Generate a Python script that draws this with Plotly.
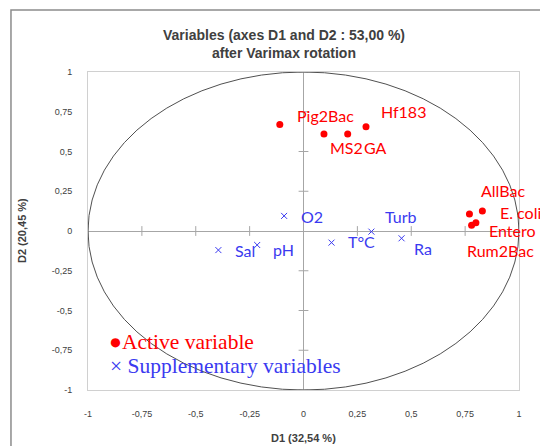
import plotly.graph_objects as go

# ---- data ----
active_names = ["Pig2Bac", "MS2", "GA", "Hf183", "AllBac", "E. coli", "Entero", "Rum2Bac"]
active_d1 = [-0.11, 0.095, 0.205, 0.29, 0.77, 0.83, 0.80, 0.78]
active_d2 = [0.67, 0.61, 0.61, 0.655, 0.107, 0.126, 0.052, 0.036]

supp_names = ["O2", "Sal", "pH", "T°C", "Turb", "Ra"]
supp_d1 = [-0.09, -0.395, -0.215, 0.13, 0.315, 0.455]
supp_d2 = [0.095, -0.12, -0.088, -0.073, -0.004, -0.046]

tick_vals = [-1, -0.75, -0.5, -0.25, 0, 0.25, 0.5, 0.75, 1]
tick_text = ["-1", "-0,75", "-0,5", "-0,25", "0", "0,25", "0,5", "0,75", "1"]

# ---- label offsets (screen px: dx right, dy down) ----
active_off = [(15, -9), (4, 13), (14, 13), (13, -15), (10, -23), (16, 2), (11, 8), (-7, 25)]
supp_off = [(15, 1), (15, 0), (14, 5), (14, -1), (12, -15), (10, 10)]

RED = "#ff0000"
BLUE = "#3a3af0"
LBL_FONT = "Lato"
GRAY_TXT = "#404040"

fig = go.Figure()

# tick marks on the zero axes
inner = [t for t in tick_vals if t != 0]
fig.add_trace(go.Scatter(x=inner, y=[0] * len(inner), mode="markers", hoverinfo="skip",
                         marker=dict(symbol="line-ns", size=7, line=dict(color="#a6a6a6", width=1))))
fig.add_trace(go.Scatter(x=[0] * len(inner), y=inner, mode="markers", hoverinfo="skip",
                         marker=dict(symbol="line-ew", size=7, line=dict(color="#a6a6a6", width=1))))

fig.add_trace(go.Scatter(x=active_d1, y=active_d2, mode="markers", name="Active",
                         marker=dict(symbol="circle", size=7, color=RED)))
fig.add_trace(go.Scatter(x=supp_d1, y=supp_d2, mode="markers", name="Supplementary",
                         marker=dict(symbol="x-thin", size=6, line=dict(color=BLUE, width=1))))

annotations = []
for n, x, y, (dx, dy) in zip(active_names, active_d1, active_d2, active_off):
    annotations.append(dict(x=x, y=y, xref="x", yref="y", text=n, showarrow=False,
                            xanchor="left", yanchor="middle", xshift=dx, yshift=-dy,
                            font=dict(family=LBL_FONT, size=16, color=RED)))
for n, x, y, (dx, dy) in zip(supp_names, supp_d1, supp_d2, supp_off):
    annotations.append(dict(x=x, y=y, xref="x", yref="y", text=n, showarrow=False,
                            xanchor="left", yanchor="middle", xshift=dx, yshift=-dy,
                            font=dict(family=LBL_FONT, size=16, color=BLUE)))

# title lines
annotations.append(dict(x=0.455, y=1.116, xref="paper", yref="paper", showarrow=False,
                        xanchor="center", yanchor="middle",
                        text="<b>Variables (axes D1 and D2 : 53,00 %)</b>",
                        font=dict(family="Liberation Sans", size=14, color=GRAY_TXT)))
annotations.append(dict(x=0.455, y=1.060, xref="paper", yref="paper", showarrow=False,
                        xanchor="center", yanchor="middle",
                        text="<b>after Varimax rotation</b>",
                        font=dict(family="Liberation Sans", size=14, color=GRAY_TXT)))
# axis titles
annotations.append(dict(x=0.5, y=-0.151, xref="paper", yref="paper", showarrow=False,
                        xanchor="center", yanchor="middle", text="<b>D1 (32,54 %)</b>",
                        font=dict(family="Liberation Sans", size=11, color=GRAY_TXT)))
annotations.append(dict(x=-0.153, y=0.5, xref="paper", yref="paper", showarrow=False,
                        xanchor="center", yanchor="middle", text="<b>D2 (20,45 %)</b>",
                        textangle=-90,
                        font=dict(family="Liberation Sans", size=11, color=GRAY_TXT)))
# legend text
annotations.append(dict(x=-0.91, y=-0.70, xref="x", yref="y", xanchor="left", yanchor="middle",
                        text="●Active variable", showarrow=False,
                        font=dict(family="Liberation Serif", size=21.5, color=RED)))
annotations.append(dict(x=-0.905, y=-0.85, xref="x", yref="y", xanchor="left", yanchor="middle",
                        text="× Supplementary variables", showarrow=False,
                        font=dict(family="Liberation Serif", size=21.5, color=BLUE)))

axis_common = dict(range=[-1, 1], tickvals=tick_vals, ticktext=tick_text, showgrid=False,
                   zeroline=True, zerolinecolor="#a6a6a6", zerolinewidth=1,
                   showline=True, mirror=True, linecolor="#d0d0d0", linewidth=1,
                   ticks="", automargin=False,
                   tickfont=dict(family="Liberation Sans", size=9, color=GRAY_TXT))

# page body has an 8px margin, so the figure is drawn 8px smaller and offset
fig.update_layout(
    width=540, height=438,
    margin=dict(l=80, r=29, t=64, b=56),
    paper_bgcolor="white", plot_bgcolor="white",
    showlegend=False,
    xaxis=dict(**axis_common, ticklabelstandoff=15),
    yaxis=dict(**axis_common, ticklabelstandoff=13),
    annotations=annotations,
    shapes=[
        dict(type="circle", xref="x", yref="y", x0=-1, y0=-1, x1=1, y1=1,
             line=dict(color="#505050", width=1), layer="above"),
        dict(type="path", xref="paper", yref="paper",
             path="M -0.1787,-0.19 L -0.1787,1.195 L 1.072,1.195",
             line=dict(color="#8c8c8c", width=1.5)),
    ],
)

fig.write_html("out.html")
